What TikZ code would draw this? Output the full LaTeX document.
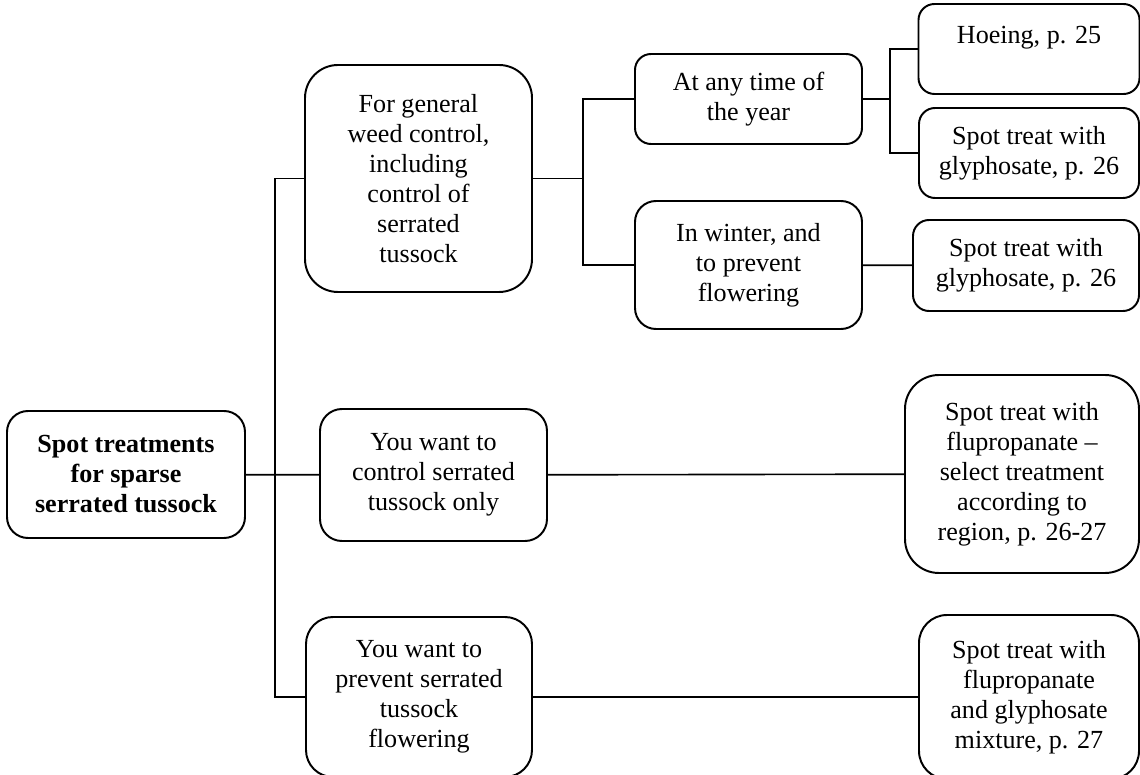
\documentclass[tikz,border=0pt]{standalone}
\usepackage{fontspec}
\setmainfont{Liberation Serif}
\usetikzlibrary{positioning}

\begin{document}
\begin{tikzpicture}[x=0.46pt, y=-0.46pt,
                choice/.style={draw, line width=0.9pt, rounded corners=#1*0.46pt,
                               align=center, inner sep=2pt,
                               font=\fontsize{12}{13.8}\selectfont},
                boxsize/.style 2 args={minimum width=#1*0.46pt, minimum height=#2*0.46pt},
                link/.style={line width=0.75pt}]
                \useasboundingbox (0,0) rectangle (1140,775);

                \node[choice=21, boxsize={238}{127}] (root) at (126,474.5)
                      {\bfseries Spot treatments\\\bfseries for sparse\\\bfseries serrated tussock};
                \node[choice=33, boxsize={227}{227}] (gen) at (418.5,178.5)
                      {For general\\weed control,\\including\\control of\\serrated\\tussock};
                \node[choice=22, boxsize={227}{132}] (want) at (433.5,475)
                      {You want to\\control serrated\\tussock only};
                \node[choice=27, boxsize={226}{160}] (prevent) at (419,697)
                      {You want to\\prevent serrated\\tussock\\flowering};
                \node[choice=16, boxsize={227}{90}] (any) at (748.5,99)
                      {At any time of\\the year};
                \node[choice=21, boxsize={227}{128}] (winter) at (748.5,265)
                      {In winter, and\\to prevent\\flowering};
                \node[choice=16, boxsize={221}{90}] (hoe) at (1029,49)
                      {Hoeing, p. 25\\[-5pt]\strut};
                \node[choice=16, boxsize={220}{90}] (gly1) at (1029,153)
                      {Spot treat with\\glyphosate, p. 26};
                \node[choice=16, boxsize={226}{91}] (gly2) at (1026,265.5)
                      {Spot treat with\\glyphosate, p. 26};
                \node[choice=34, boxsize={234}{198}] (flu1) at (1022,474)
                      {Spot treat with\\flupropanate --\\select treatment\\according to\\region, p. 26-27};
                \node[choice=28, boxsize={220}{164}] (flu2) at (1029,697)
                      {Spot treat with\\flupropanate\\and glyphosate\\mixture, p. 27};

                \coordinate (b1) at (275,475);
                \coordinate (b2) at (583,178.5);
                \coordinate (b3) at (890,99);

                \draw[link] (root) -- (want);
                \draw[link] (gen.west) -| (b1) |- (prevent.west);
                \draw[link] (gen) -- (b2);
                \draw[link] (any.west) -| (b2) |- (winter.west);
                \draw[link] (any) -- (b3);
                \draw[link] (hoe.west) -| (b3) |- (gly1.west);
                \draw[link] (winter) -- (gly2);
                \draw[link] (want) -- (flu1);
                \draw[link] (prevent) -- (flu2);
            \end{tikzpicture}
\end{document}
